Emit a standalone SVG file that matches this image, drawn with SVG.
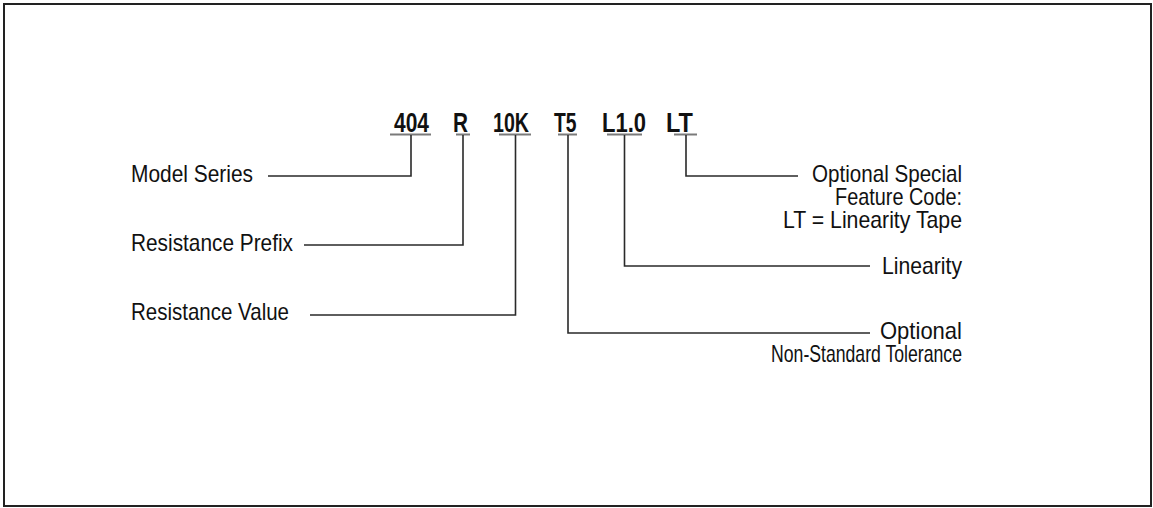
<svg xmlns="http://www.w3.org/2000/svg" width="1153" height="508" viewBox="0 0 1153 508">
<style>
.code{font-family:"Liberation Sans",Arial,sans-serif;font-weight:bold;font-size:28px;fill:#111}
.lbl{font-family:"Liberation Sans",Arial,sans-serif;font-size:24px;fill:#111}
.ul{stroke:#7a7a7a;stroke-width:2;fill:none}
.ln{stroke:#2a2a2a;stroke-width:1.6;fill:none}
</style>
<rect x="4" y="4" width="1147" height="502" fill="#fff" stroke="#222" stroke-width="2"/>
<g id="code-404"><text class="code" x="394" y="132" textLength="35" lengthAdjust="spacingAndGlyphs">404</text><line class="ul" x1="390" y1="134.5" x2="431" y2="134.5"/></g>
<g id="code-R"><text class="code" x="453" y="132" textLength="15" lengthAdjust="spacingAndGlyphs">R</text><line class="ul" x1="456" y1="134.5" x2="470" y2="134.5"/></g>
<g id="code-10K"><text class="code" x="493" y="132" textLength="36" lengthAdjust="spacingAndGlyphs">10K</text><line class="ul" x1="499" y1="134.5" x2="531" y2="134.5"/></g>
<g id="code-T5"><text class="code" x="554" y="132" textLength="22.5" lengthAdjust="spacingAndGlyphs">T5</text><line class="ul" x1="558" y1="134.5" x2="577" y2="134.5"/></g>
<g id="code-L10"><text class="code" x="602" y="132" textLength="44" lengthAdjust="spacingAndGlyphs">L1.0</text><line class="ul" x1="607" y1="134.5" x2="642" y2="134.5"/></g>
<g id="code-LT"><text class="code" x="666" y="132" textLength="27" lengthAdjust="spacingAndGlyphs">LT</text><line class="ul" x1="674" y1="134.5" x2="697" y2="134.5"/></g>
<g id="label-model"><text class="lbl" x="131" y="182" textLength="122" lengthAdjust="spacingAndGlyphs">Model Series</text></g>
<g id="label-prefix"><text class="lbl" x="131" y="251" textLength="162" lengthAdjust="spacingAndGlyphs">Resistance Prefix</text></g>
<g id="label-value"><text class="lbl" x="131" y="320" textLength="158" lengthAdjust="spacingAndGlyphs">Resistance Value</text></g>
<g id="label-feature"><text class="lbl" x="812" y="182" textLength="150" lengthAdjust="spacingAndGlyphs">Optional Special</text><text class="lbl" x="835" y="205" textLength="127" lengthAdjust="spacingAndGlyphs">Feature Code:</text><text class="lbl" x="783" y="228" textLength="179" lengthAdjust="spacingAndGlyphs">LT = Linearity Tape</text></g>
<g id="label-linearity"><text class="lbl" x="882" y="274" textLength="80" lengthAdjust="spacingAndGlyphs">Linearity</text></g>
<g id="label-tolerance"><text class="lbl" x="880" y="339" textLength="82" lengthAdjust="spacingAndGlyphs">Optional</text><text class="lbl" x="771" y="362" textLength="191" lengthAdjust="spacingAndGlyphs">Non-Standard Tolerance</text></g>
<g id="connectors">
<polyline class="ln" points="268,176 411,176 411,135"/>
<polyline class="ln" points="304,245 463,245 463,135"/>
<polyline class="ln" points="310,315 515.5,315 515.5,135"/>
<polyline class="ln" points="568,135 568,333 870,333"/>
<polyline class="ln" points="624.5,135 624.5,266 870,266"/>
<polyline class="ln" points="686,135 686,176 798,176"/>
</g>
</svg>
